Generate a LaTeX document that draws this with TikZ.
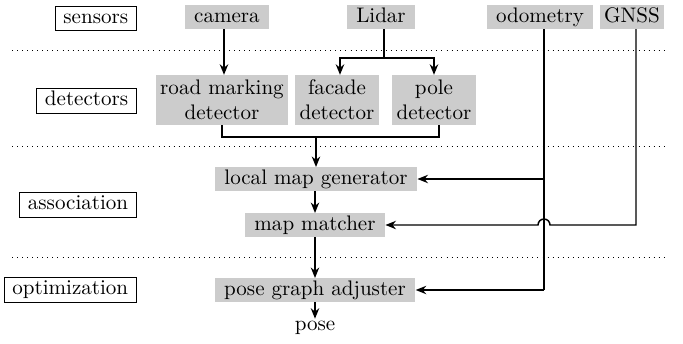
\documentclass[tikz,border=0pt]{standalone}
\usetikzlibrary{arrows.meta,calc}
\begin{document}
\begin{tikzpicture}[x=0.475pt,y=-0.475pt,
  stage/.style={draw,thin,inner xsep=4pt,inner ysep=1.5pt,text height=6.6pt,text depth=1.9pt},
  block/.style={fill=black!20,inner xsep=4.5pt,inner ysep=1pt,text height=7pt,text depth=2pt},
  twoline/.style={fill=black!20,align=center,inner xsep=2pt,inner ysep=1pt,minimum height=23.5pt},
  conn/.style={line width=0.7pt},
  arr/.style={conn,-{Stealth[length=5pt,width=4pt]}},
  sep/.style={dotted,thin}]
\useasboundingbox (0,0) rectangle (683,343);

% layer separators
\draw[sep] (12,50) -- (665,50);
\draw[sep] (12,146) -- (665,146);
\draw[sep] (12,257) -- (665,257);

% layer labels, right-aligned
\node[stage,anchor=east] (lsens) at (137,18.5) {sensors};
\node[stage,anchor=east] (ldet) at (137,101) {detectors};
\node[stage,anchor=east] (lasso) at (137,205) {association};
\node[stage,anchor=east] (lopt) at (137,290) {optimization};

% sensors
\node[block] (cam) at (227,17) {camera};
\node[block] (lidar) at (381,17) {Lidar};
\node[block] (odo) at (540,17) {odometry};
\node[block,inner xsep=2.2pt] (gnss) at (632,17) {GNSS};

% detectors
\node[twoline] (rmd) at (222,100) {road marking\\detector};
\node[twoline] (fac) at (337,100) {facade\\detector};
\node[twoline] (pole) at (434,100) {pole\\detector};

% association and optimization
\node[block] (lmg) at (316,179) {local map generator};
\node[block] (mm) at (315,225) {map matcher};
\node[block] (pga) at (315,290) {pose graph adjuster};
\node[inner sep=1pt] (pose) at (315,328) {pose};

% sensor to detector connectors
\draw[arr] (cam.south -| 224,0) -- (rmd.north -| 224,0);
\coordinate (lsplit) at (384,58);
\draw[conn] (lidar.south -| lsplit) -- (lsplit);
\draw[arr] (lsplit) -| ($(fac.north)+(3,0)$);
\draw[arr] (lsplit) -| (pole.north);

% detectors merge into local map generator
\coordinate (merge) at (316,137);
\draw[conn] (rmd.south) |- (merge);
\draw[conn] ($(fac.south)+(1,0)$) -- ($(fac.south)+(1,0)$ |- merge);
\draw[conn] ($(pole.south)+(5,0)$) |- (merge);
\draw[arr] (merge) -- (lmg.north -| merge);

% processing chain
\draw[arr] (lmg.south -| mm) -- (mm.north);
\draw[arr] (mm.south) -- (pga.north);
\draw[arr] (pga.south) -- (pose.north);

% odometry feeds generator and adjuster
\coordinate (otop) at (544,0);
\coordinate (obot) at (544,290);
\draw[conn] (odo.south -| otop) -- (obot);
\draw[arr] (lmg.east -| otop) -- (lmg.east);
\draw[arr] (obot) -- (pga.east);

% GNSS feeds matcher, hopping over the odometry line
\coordinate (gcorner) at (636,225);
\draw[arr] (gnss.south -| gcorner) -- (gcorner) -- (550,225)
  arc[start angle=0,end angle=180,radius=2.85pt] -- (mm.east);
\end{tikzpicture}
\end{document}
